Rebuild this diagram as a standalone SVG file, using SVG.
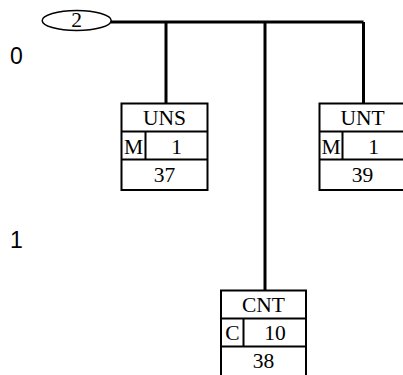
<svg xmlns="http://www.w3.org/2000/svg" width="403" height="375" viewBox="0 0 403 375">
<style>
.bg{fill:#fff}
.box{fill:#fff;stroke:#000;stroke-width:2}
.ln{fill:none;stroke:#000;stroke-width:2}
.wire{fill:none;stroke:#000;stroke-width:3}
.t{font-family:"Liberation Serif",serif;font-size:21.5px;text-anchor:middle;fill:#000}
.lvl{font-family:"Liberation Sans",sans-serif;font-size:23px;fill:#000}
</style>
<rect class="bg" x="0" y="0" width="403" height="375"/>
<g id="connectors">
<path class="wire" d="M111,22 H363.5 M166,22 V103 M265,22 V290 M363.5,22 V103"/>
</g>
<g id="root">
<ellipse cx="76.7" cy="20.5" rx="34.5" ry="10" fill="#fff" stroke="#000" stroke-width="1.5"/>
<text class="t" x="76.7" y="27.3">2</text>
</g>
<g id="levels">
<text class="lvl" x="10" y="63.5">0</text>
<text class="lvl" x="10" y="248">1</text>
</g>
<g id="UNS">
<rect class="box" x="121.5" y="103.5" width="86" height="86.5"/>
<path class="ln" d="M121.5,131.5 H207.5 M121.5,159.5 H207.5 M145.5,131.5 V159.5"/>
<text class="t" x="164.5" y="125">UNS</text>
<text class="t" x="133.5" y="154">M</text>
<text class="t" x="176.5" y="154">1</text>
<text class="t" x="164.5" y="182">37</text>
</g>
<g id="UNT">
<rect class="box" x="319.5" y="103.5" width="86" height="86.5"/>
<path class="ln" d="M319.5,131.5 H405.5 M319.5,159.5 H405.5 M342.5,131.5 V159.5"/>
<text class="t" x="362.5" y="125">UNT</text>
<text class="t" x="331" y="154">M</text>
<text class="t" x="373.5" y="154">1</text>
<text class="t" x="362.5" y="182">39</text>
</g>
<g id="CNT">
<rect class="box" x="221" y="290.5" width="85" height="86"/>
<path class="ln" d="M221,318.5 H306 M221,346.5 H306 M243.5,318.5 V346.5"/>
<text class="t" x="263.5" y="312">CNT</text>
<text class="t" x="232.5" y="340">C</text>
<text class="t" x="275" y="340">10</text>
<text class="t" x="263.5" y="368">38</text>
</g>
</svg>
